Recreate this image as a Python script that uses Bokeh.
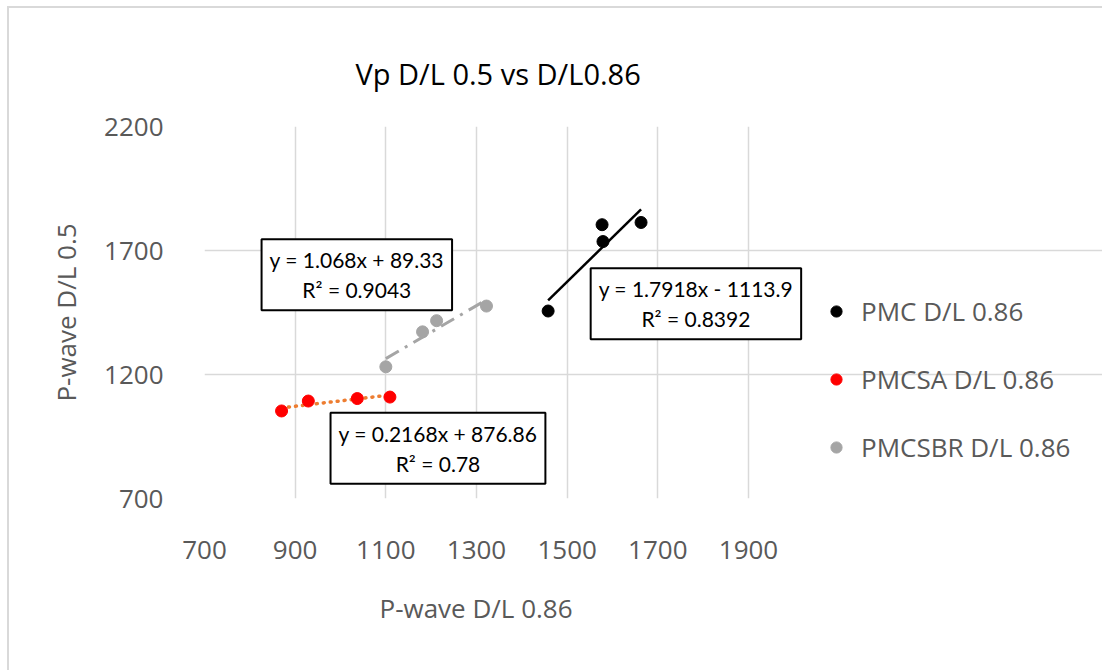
from bokeh.plotting import figure
from bokeh.models import Legend, LegendItem, Label, FixedTicker, Range1d, InlineStyleSheet, Title
from bokeh.embed import file_html
from bokeh.resources import INLINE

# ---------------- data ----------------
series_names = ["PMC D/L 0.86", "PMCSA D/L 0.86", "PMCSBR D/L 0.86"]

pmc_x = [1458, 1577, 1579, 1663]
pmc_y = [1456, 1804, 1736, 1813]

pmcsa_x = [870, 929, 1037, 1109]
pmcsa_y = [1053, 1093, 1103, 1109]

pmcsbr_x = [1100, 1181, 1212, 1322]
pmcsbr_y = [1231, 1372, 1417, 1476]

trend_slope = [1.7918, 0.2168, 1.068]
trend_intercept = [-1113.9, 876.86, 89.33]
trend_labels = [
    "y = 1.7918x - 1113.9\nR\u00b2 = 0.8392",
    "y = 0.2168x + 876.86\nR\u00b2 = 0.78",
    "y = 1.068x + 89.33\nR\u00b2 = 0.9043",
]

x_ticks = [700, 900, 1100, 1300, 1500, 1700, 1900]
y_ticks = [700, 1200, 1700, 2200]

title_text = "Vp D/L 0.5 vs D/L0.86"
x_title = "P-wave D/L 0.86"
y_title = "P-wave D/L 0.5"

# ---------------- style ----------------
FONT = "Open Sans"
EQ_FONT = "Lato"
GRID = "#D9D9D9"
GRAY_TXT = "#595959"
colors = ["#000000", "#FF0000", "#A5A5A5"]
trend_colors = ["#000000", "#ED7D31", "#A5A5A5"]
trend_dash = ["solid", "1 6", "15 7 3 7"]
trend_width = [2.5, 3.5, 3]

# frame extends to the right edge so that the legend and boxes are not clipped;
# the visible plot area (700..1900) is produced by grid bounds
LEFT = 204
PX_PER_X = 544.0 / (x_ticks[-1] - x_ticks[0])
x_end = x_ticks[0] + (1102 - LEFT) / PX_PER_X

p = figure(width=1102, height=670, output_backend="svg", toolbar_location=None,
           x_range=Range1d(x_ticks[0], x_end), y_range=Range1d(y_ticks[0], y_ticks[-1]),
           min_border_left=LEFT, min_border_right=0, min_border_top=126, min_border_bottom=172)
p.background_fill_color = "white"
p.border_fill_color = "white"
p.outline_line_color = None

p.title.text = title_text
p.title.align = "left"
p.title.text_font = FONT
p.title.text_font_size = "29px"
p.title.text_font_style = "normal"
p.title.text_color = "#000000"
p.title.offset = 355 - LEFT
p.title.standoff = 68

for g in (p.xgrid, p.ygrid):
    g.grid_line_color = GRID
    g.grid_line_width = 1.5
p.ygrid.bounds = (x_ticks[0], x_ticks[-1])
p.xgrid.bounds = (y_ticks[0], y_ticks[-1])
p.xaxis.ticker = FixedTicker(ticks=x_ticks)
p.yaxis.ticker = FixedTicker(ticks=y_ticks)
for ax in (p.xaxis, p.yaxis):
    ax.axis_line_color = None
    ax.major_tick_line_color = None
    ax.minor_tick_line_color = None
    ax.major_label_text_font = FONT
    ax.major_label_text_font_size = "26px"
    ax.major_label_text_color = GRAY_TXT
    ax.axis_label_text_font = FONT
    ax.axis_label_text_font_size = "26px"
    ax.axis_label_text_font_style = "normal"
    ax.axis_label_text_color = GRAY_TXT
p.yaxis.axis_label = y_title
p.xaxis.major_label_standoff = 36
p.yaxis.major_label_standoff = 35
p.yaxis.axis_label_standoff = 17

# x-axis title, centred under the 700..1900 plot area
p.add_layout(Title(text=x_title, align="left", offset=379 - LEFT, standoff=52,
                   text_font=FONT, text_font_size="26px", text_font_style="normal",
                   text_color=GRAY_TXT), "below")

# trendlines
xs_all = [pmc_x, pmcsa_x, pmcsbr_x]
ys_all = [pmc_y, pmcsa_y, pmcsbr_y]
for i in range(3):
    x0, x1 = min(xs_all[i]), max(xs_all[i])
    p.line([x0, x1], [trend_slope[i] * x0 + trend_intercept[i], trend_slope[i] * x1 + trend_intercept[i]],
           line_color=trend_colors[i], line_width=trend_width[i], line_dash=trend_dash[i],
           line_cap="round" if i == 1 else "butt")

renderers = []
for i in range(3):
    r = p.scatter(xs_all[i], ys_all[i], size=12, fill_color=colors[i], line_color=colors[i])
    renderers.append(r)

legend = Legend(items=[LegendItem(label=series_names[i], renderers=[renderers[i]]) for i in range(3)],
                location=(618, 32), orientation="vertical",
                glyph_width=28, glyph_height=38, label_height=38, spacing=30, label_standoff=11,
                padding=0, margin=0, border_line_color=None, background_fill_alpha=0,
                label_text_font=FONT, label_text_font_size="26px", label_text_color=GRAY_TXT)
p.add_layout(legend)

# equation boxes
label_pos = [(1784, 1485), (1215, 903), (1036, 1602)]
for i in range(3):
    lab = Label(x=label_pos[i][0], y=label_pos[i][1], text=trend_labels[i],
                text_align="center", text_baseline="middle",
                text_font=EQ_FONT, text_font_size="21px", text_color="#000000",
                text_line_height=1.2,
                border_line_color="#000000", border_line_width=2,
                background_fill_color="white", padding=8)
    p.add_layout(lab)

# chart-area border (top and left edges; right/bottom fall outside the picture)
p.stylesheets = [InlineStyleSheet(css=(
    ":host::after { content: ''; position: absolute; left: 7px; top: 6px; right: 0; bottom: 0; "
    "border-left: 2px solid #D9D9D9; border-top: 2px solid #D9D9D9; pointer-events: none; }"))]

open("out.html", "w").write(file_html(p, INLINE))
